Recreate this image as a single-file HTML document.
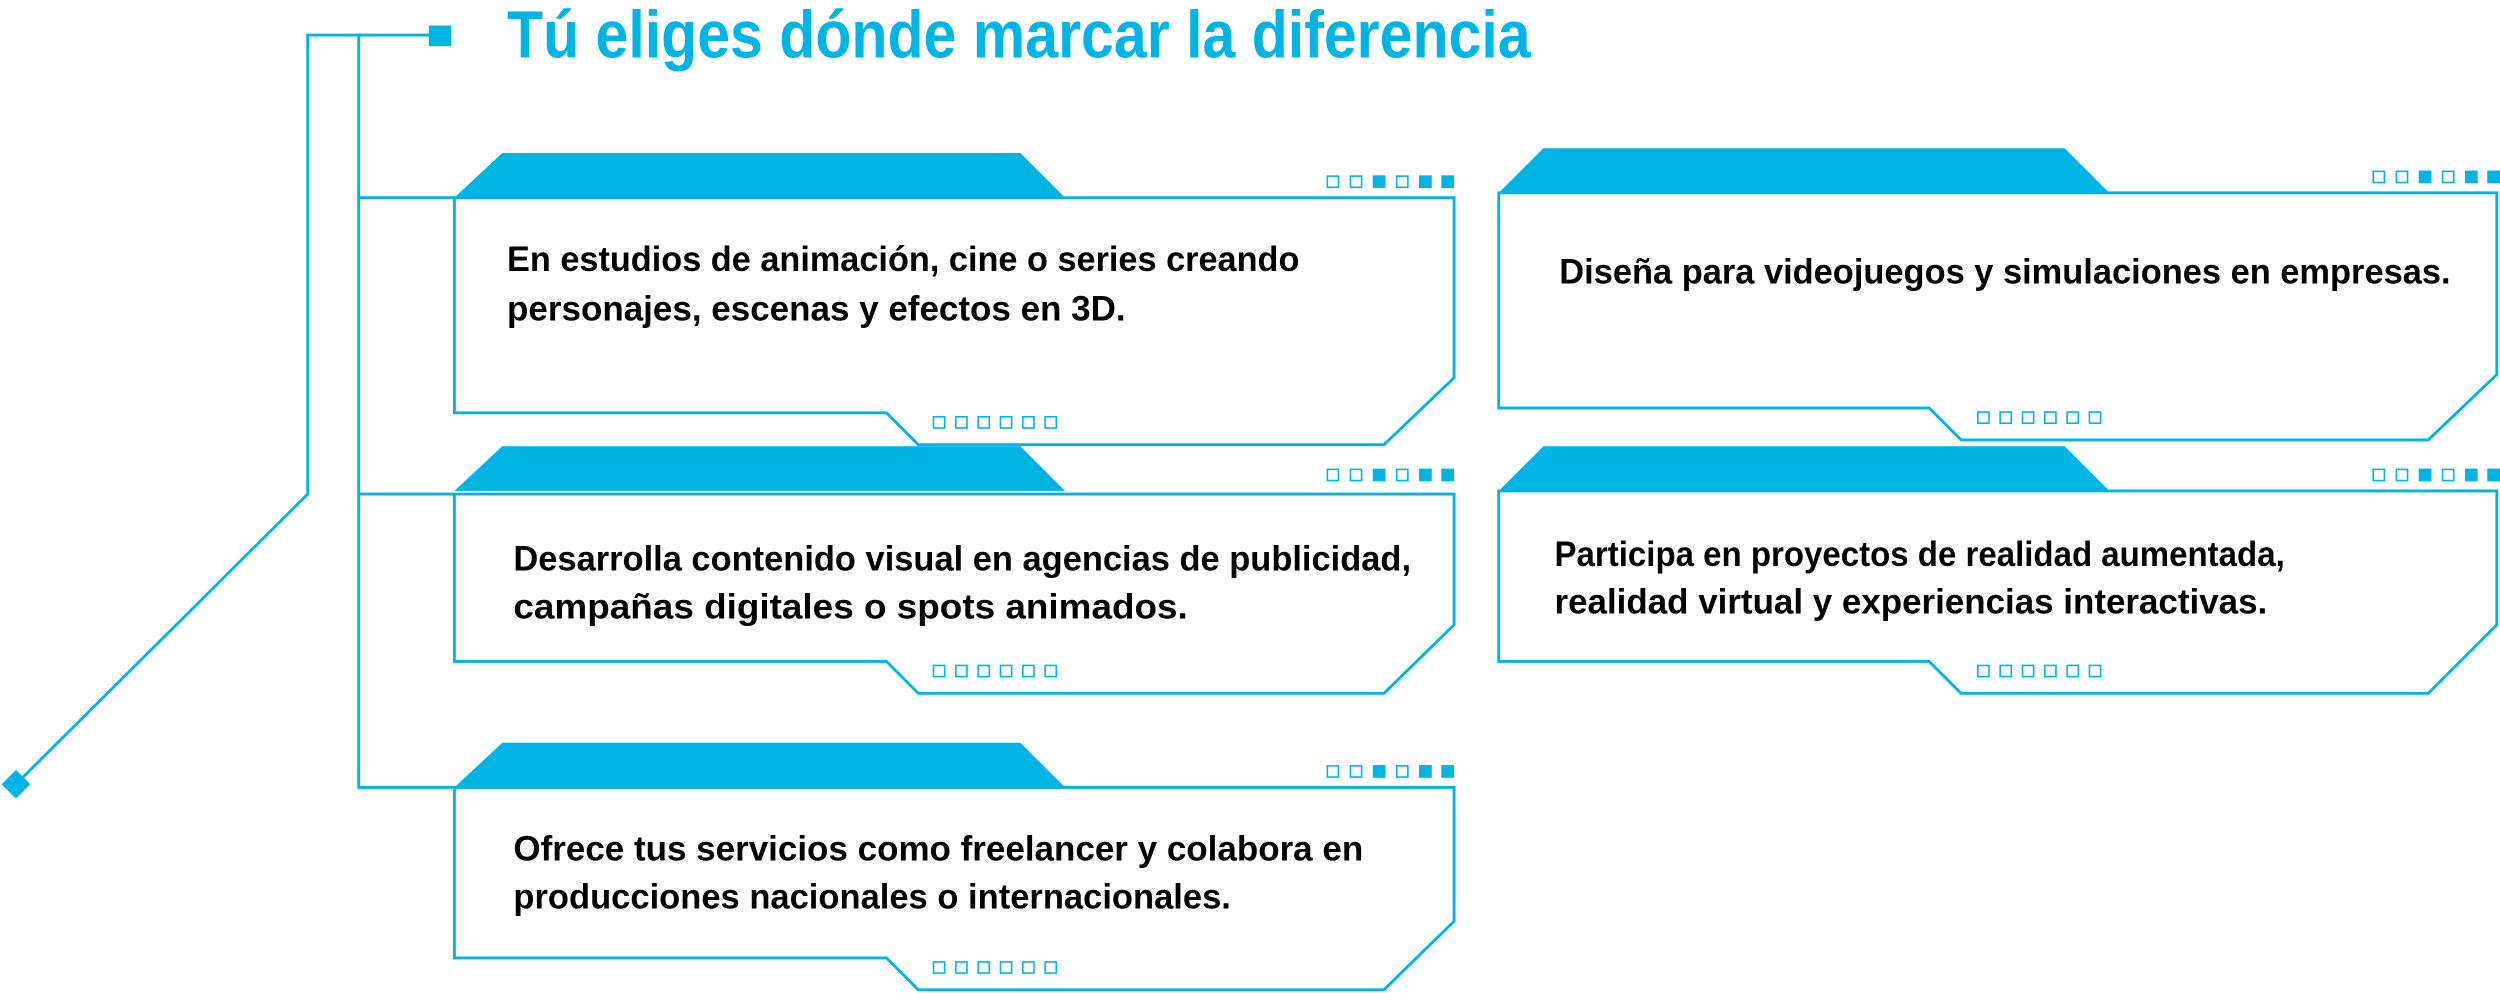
<!DOCTYPE html>
<html><head><meta charset="utf-8"><style>
html,body{margin:0;padding:0;background:#fff;}
svg{display:block;}
text{font-family:"Liberation Sans",sans-serif;font-weight:bold;}
</style></head><body>
<svg width="2500" height="993" viewBox="0 0 1568 623" preserveAspectRatio="none" xmlns="http://www.w3.org/2000/svg">
<defs>
<g id="dtop">
 <rect x="0.5" y="0.5" width="7" height="7" fill="none" stroke="#00b4e4" stroke-width="1"/>
 <rect x="15" y="0.5" width="7" height="7" fill="none" stroke="#00b4e4" stroke-width="1"/>
 <rect x="29" y="0" width="8" height="8" fill="#00b4e4"/>
 <rect x="44" y="0.5" width="7" height="7" fill="none" stroke="#00b4e4" stroke-width="1"/>
 <rect x="58" y="0" width="8" height="8" fill="#00b4e4"/>
 <rect x="72" y="0" width="8" height="8" fill="#00b4e4"/>
</g>
<g id="dbot" fill="none" stroke="#00b4e4" stroke-width="1">
 <rect x="0.5" y="0.5" width="7" height="7"/><rect x="14.5" y="0.5" width="7" height="7"/>
 <rect x="28.5" y="0.5" width="7" height="7"/><rect x="42.5" y="0.5" width="7" height="7"/>
 <rect x="56.5" y="0.5" width="7" height="7"/><rect x="70.5" y="0.5" width="7" height="7"/>
</g>
</defs>
<g stroke="#00b4e4" stroke-width="1.8" fill="none">
 <polyline points="270,22 193,22 193,310 10,492"/>
 <polyline points="225,22 225,494 285,494"/>
 <line x1="225" y1="124" x2="285" y2="124"/>
 <line x1="225" y1="310" x2="285" y2="310"/>
 <polygon points="285,124 912,124 912,237 868,279 576,279 556,259 285,259"/>
 <polygon points="940,121 1566,121 1566,235 1523,276 1230,276 1210,256 940,256"/>
 <polygon points="285,310 912,310 912,392 868,435 576,435 556,415 285,415"/>
 <polygon points="940,308 1566,308 1566,392 1523,435 1230,435 1210,415 940,415"/>
 <polygon points="285,494 912,494 912,578 868,621 576,621 556,601 285,601"/>
</g>
<rect x="269" y="16" width="14" height="13" fill="#00b4e4"/>
<polygon points="10,483 19,492 10,501 1,492" fill="#00b4e4"/>
<g fill="#00b4e4">
 <polygon points="315,96 640,96 668,124 285,124"/>
 <polygon points="968,93 1295,93 1323,121 940,121"/>
 <polygon points="315,280 640,280 668,308 285,308"/>
 <polygon points="968,280 1295,280 1323,308 940,308"/>
 <polygon points="315,466 640,466 668,494 285,494"/>
</g>
<use href="#dtop" x="832" y="110"/>
<use href="#dtop" x="1488" y="107"/>
<use href="#dtop" x="832" y="294"/>
<use href="#dtop" x="1488" y="294"/>
<use href="#dtop" x="832" y="480"/>
<use href="#dbot" x="585" y="261"/>
<use href="#dbot" x="1240" y="258"/>
<use href="#dbot" x="585" y="417"/>
<use href="#dbot" x="1240" y="417"/>
<use href="#dbot" x="585" y="603"/>
<text x="318" y="36" font-size="42" fill="#00b4e4" textLength="642" lengthAdjust="spacingAndGlyphs">Tú eliges dónde marcar la diferencia</text>
<g font-size="22" fill="#000">
 <text x="318" y="170" textLength="497" lengthAdjust="spacingAndGlyphs">En estudios de animación, cine o series creando</text>
 <text x="318" y="201" textLength="388" lengthAdjust="spacingAndGlyphs">personajes, escenas y efectos en 3D.</text>
 <text x="978" y="178" textLength="559" lengthAdjust="spacingAndGlyphs">Diseña para videojuegos y simulaciones en empresas.</text>
 <text x="322" y="358" textLength="563" lengthAdjust="spacingAndGlyphs">Desarrolla contenido visual en agencias de publicidad,</text>
 <text x="322" y="388" textLength="423" lengthAdjust="spacingAndGlyphs">campañas digitales o spots animados.</text>
 <text x="975" y="355" textLength="458" lengthAdjust="spacingAndGlyphs">Participa en proyectos de realidad aumentada,</text>
 <text x="975" y="385" textLength="447" lengthAdjust="spacingAndGlyphs">realidad virtual y experiencias interactivas.</text>
 <text x="322" y="540" textLength="533" lengthAdjust="spacingAndGlyphs">Ofrece tus servicios como freelancer y colabora en</text>
 <text x="322" y="570" textLength="450" lengthAdjust="spacingAndGlyphs">producciones nacionales o internacionales.</text>
</g>
</svg>
</body></html>
